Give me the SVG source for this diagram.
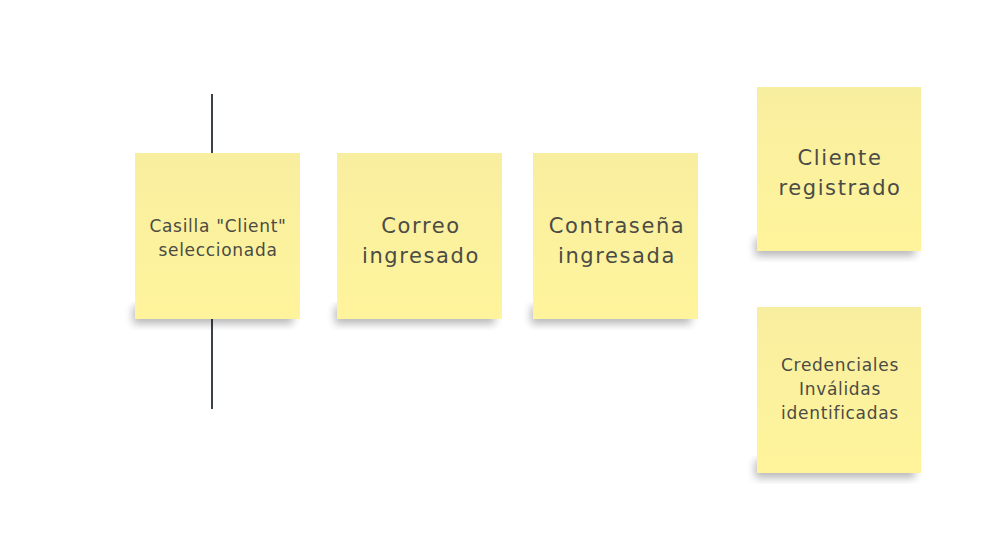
<svg xmlns="http://www.w3.org/2000/svg" width="1003" height="541" viewBox="0 0 1003 541">
<defs>
<linearGradient id="paper" x1="0" y1="0" x2="0" y2="1">
<stop offset="0" stop-color="#f8ee9f"/>
<stop offset="1" stop-color="#fff49c"/>
</linearGradient>
<filter id="shadow" x="-20%" y="-20%" width="140%" height="150%">
<feGaussianBlur stdDeviation="4"/>
</filter>
</defs>
<style>
.note{fill:url(#paper);}
.sh{fill:#000;opacity:0.28;filter:url(#shadow);}
.t{font-family:"DejaVu Sans","Liberation Sans",sans-serif;fill:#4b4b45;text-anchor:middle;}
.big{font-size:21px;letter-spacing:1.6px;}
.sm{font-size:17px;letter-spacing:0.7px;}
.line{stroke:#3c4048;stroke-width:2;fill:none;}
</style>
<rect width="1003" height="541" fill="#ffffff"/>
<g id="connectors">
<line class="line" x1="212" y1="94" x2="212" y2="409"/>
</g>
<g id="n1">
<rect class="sh" x="133" y="306" width="160" height="18"/>
<rect class="note" x="135" y="153" width="165" height="166"/>
<text class="t sm" x="218" y="232">Casilla "Client"</text>
<text class="t sm" x="218" y="256">seleccionada</text>
</g>
<g id="n2">
<rect class="sh" x="335" y="306" width="160" height="18"/>
<rect class="note" x="337" y="153" width="165" height="166"/>
<text class="t big" x="421" y="233">Correo</text>
<text class="t big" x="421" y="263">ingresado</text>
</g>
<g id="n3">
<rect class="sh" x="531" y="306" width="160" height="18"/>
<rect class="note" x="533" y="153" width="165" height="166"/>
<text class="t big" x="617" y="233">Contraseña</text>
<text class="t big" x="617" y="263">ingresada</text>
</g>
<g id="n4">
<rect class="sh" x="755" y="238" width="160" height="18"/>
<rect class="note" x="757" y="87" width="164" height="164"/>
<text class="t big" x="840" y="165">Cliente</text>
<text class="t big" x="840" y="195">registrado</text>
</g>
<g id="n5">
<rect class="sh" x="755" y="460" width="160" height="18"/>
<rect class="note" x="757" y="307" width="164" height="166"/>
<text class="t sm" x="840" y="371">Credenciales</text>
<text class="t sm" x="840" y="395">Inválidas</text>
<text class="t sm" x="840" y="419">identificadas</text>
</g>
</svg>
